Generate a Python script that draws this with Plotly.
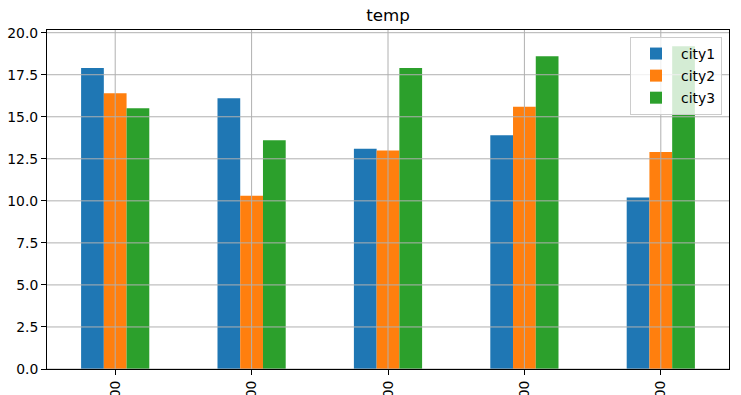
import plotly.graph_objects as go

categories = ["2019-01-01 00:00:00", "2019-01-02 00:00:00", "2019-01-03 00:00:00",
              "2019-01-04 00:00:00", "2019-01-05 00:00:00"]
city1 = [17.9, 16.1, 13.1, 13.9, 10.2]
city2 = [16.4, 10.3, 13.0, 15.6, 12.9]
city3 = [15.5, 13.6, 17.9, 18.6, 19.2]
y_ticks = [0.0, 2.5, 5.0, 7.5, 10.0, 12.5, 15.0, 17.5, 20.0]
series = [("city1", city1, "#1f77b4"), ("city2", city2, "#ff7f0e"), ("city3", city3, "#2ca02c")]

W, H = 741, 395
ml, mr, mt, mb = 46.5, 12.3, 30.3, 26.3
pw, ph = W - ml - mr, H - mt - mb

fig = go.Figure()
for name, vals, color in series:
    fig.add_trace(go.Bar(x=categories, y=vals, name=name, marker_color=color,
                         marker_line_width=0, legendgroup=name))

ymax = max(max(city1), max(city2), max(city3)) * 1.05

shapes = []
for i in range(len(categories)):
    shapes.append(dict(type="line", xref="x", yref="paper", x0=i, x1=i, y0=0, y1=1,
                       line=dict(color="#b0b0b0", width=1), layer="above"))
for v in y_ticks:
    shapes.append(dict(type="line", xref="paper", yref="y", x0=0, x1=1, y0=v, y1=v,
                       line=dict(color="#b0b0b0", width=1), layer="above"))

font = "DejaVu Sans"
fig.update_layout(
    width=W, height=H,
    margin=dict(l=ml, r=mr, t=mt, b=mb, pad=0),
    paper_bgcolor="white", plot_bgcolor="white",
    barmode="group", bargap=0.5, bargroupgap=0,
    font=dict(family=font, size=13.9, color="black"),
    title=dict(text="temp", x=0.5, xref="paper", xanchor="center",
               y=1, yref="paper", yanchor="bottom", pad=dict(b=9),
               font=dict(family=font, size=16.7, color="black")),
    xaxis=dict(type="category", range=[-0.5, len(categories) - 0.5],
               showgrid=False, showline=True, linecolor="black", linewidth=1,
               mirror=True, ticks="outside", ticklen=5, tickwidth=1, tickcolor="black",
               tickangle=-90, automargin=False, tickfont=dict(family=font, size=13.9)),
    yaxis=dict(range=[0, ymax], tickvals=y_ticks, ticktext=[f"{v:.1f}" for v in y_ticks],
               showgrid=False, zeroline=False, showline=True, linecolor="black",
               linewidth=1, mirror=True, ticks="outside", ticklen=5, tickwidth=1,
               tickcolor="black", automargin=False, tickfont=dict(family=font, size=13.9)),
    legend=dict(x=1 - 7 / pw, xanchor="right", y=1 - 7 / ph, yanchor="top",
                bgcolor="rgba(255,255,255,0.8)", bordercolor="#cccccc", borderwidth=1,
                font=dict(family=font, size=13.9), tracegroupgap=1, itemwidth=40),
    shapes=shapes,
    showlegend=True,
)

fig.write_html("out.html", config={"displayModeBar": False},
               post_script="document.body.style.margin='0';")
